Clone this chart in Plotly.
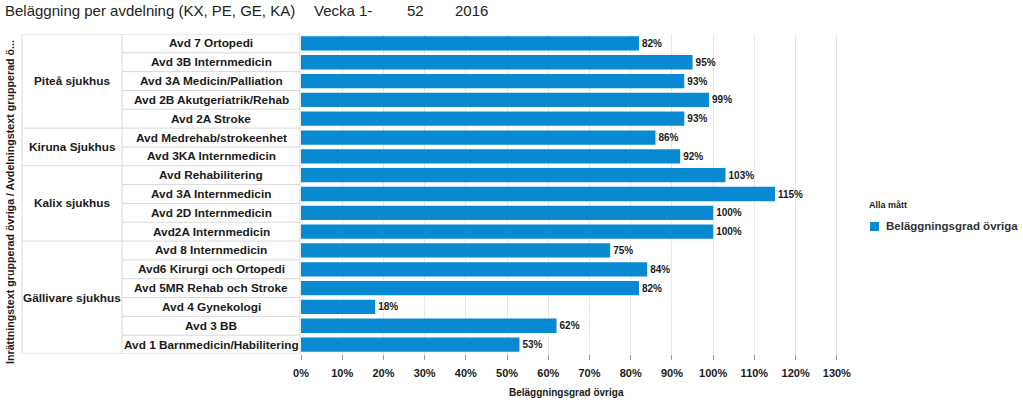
import plotly.graph_objects as go

# ---- data ----
hospitals = ["Piteå sjukhus", "Kiruna Sjukhus", "Kalix sjukhus", "Gällivare sjukhus"]
hospital_sizes = [5, 2, 4, 6]
departments = [
    "Avd 7 Ortopedi", "Avd 3B Internmedicin", "Avd 3A Medicin/Palliation",
    "Avd 2B Akutgeriatrik/Rehab", "Avd 2A Stroke",
    "Avd Medrehab/strokeenhet", "Avd 3KA Internmedicin",
    "Avd Rehabilitering", "Avd 3A Internmedicin", "Avd 2D Internmedicin", "Avd2A Internmedicin",
    "Avd 8 Internmedicin", "Avd6 Kirurgi och Ortopedi", "Avd 5MR Rehab och Stroke",
    "Avd 4 Gynekologi", "Avd 3 BB", "Avd 1 Barnmedicin/Habilitering",
]
occupancy = [82, 95, 93, 99, 93, 86, 92, 103, 115, 100, 100, 75, 84, 82, 18, 62, 53]
x_ticks = list(range(0, 131, 10))
x_ticklabels = [f"{t}%" for t in x_ticks]
series_name = "Beläggningsgrad övriga"
legend_title = "Alla mått"

# ---- layout helpers (pixel -> paper) ----
W, H = 1023, 404
L, R, T, B = 301, 843, 34, 354
def px(xp):
    return (xp - L) / (R - L)
def py(yp):
    return (B - yp) / (B - T)

n = len(departments)
idx = list(range(n))
BAR = "#0a89d3"
GRID = "#d9d9d9"
TXT = "#1a1a1a"
FONT = "Liberation Sans, Arial, sans-serif"

fig = go.Figure()
fig.add_trace(go.Bar(
    x=occupancy, y=idx, orientation="h", name=series_name,
    marker=dict(color=BAR, line=dict(width=0)),
    width=0.76,
    text=[f"<b>{v}%</b>" for v in occupancy], textposition="outside",
    textfont=dict(family=FONT, size=10, color=TXT),
    cliponaxis=False, showlegend=False,
))

shapes = []
annotations = []
col0, col1, col2 = 22, 122, 300
line = dict(color=GRID, width=1)
shapes.append(dict(type="line", xref="paper", yref="y", x0=px(col0), x1=px(col2), y0=-0.5, y1=-0.5, line=line))
shapes.append(dict(type="line", xref="paper", yref="y", x0=px(col0), x1=px(col2), y0=n - 0.5, y1=n - 0.5, line=line))
for xc in (col0, col1, col2):
    shapes.append(dict(type="line", xref="paper", yref="y", x0=px(xc), x1=px(xc), y0=-0.5, y1=n - 0.5, line=line))
boundaries = set()
start = 0
for h, s in zip(hospitals, hospital_sizes):
    end = start + s
    annotations.append(dict(xref="paper", yref="y", x=px((col0 + col1) / 2), y=(start + end - 1) / 2,
                            text=f"<b>{h}</b>", showarrow=False, xanchor="center", yanchor="middle",
                            font=dict(family=FONT, size=11.8, color=TXT)))
    if end < n:
        boundaries.add(end)
    start = end
for i in range(1, n):
    x0 = px(col0) if i in boundaries else px(col1)
    shapes.append(dict(type="line", xref="paper", yref="y", x0=x0, x1=px(col2), y0=i - 0.5, y1=i - 0.5, line=line))
for i, d in enumerate(departments):
    annotations.append(dict(xref="paper", yref="y", x=px((col1 + col2) / 2), y=i,
                            text=f"<b>{d}</b>", showarrow=False, xanchor="center", yanchor="middle",
                            font=dict(family=FONT, size=11.8, color=TXT)))

# y-axis title
annotations.append(dict(xref="paper", yref="paper", x=px(10), y=py(202), textangle=-90,
                        xanchor="center", yanchor="middle",
                        text="<b>Inrättningstext grupperad övriga / Avdelningstext grupperad ö...</b>",
                        showarrow=False, font=dict(family=FONT, size=10.7, color=TXT)))
# x-axis title
annotations.append(dict(xref="paper", yref="paper", x=px(566), y=py(392),
                        xanchor="center", yanchor="middle",
                        text="<b>Beläggningsgrad övriga</b>", showarrow=False,
                        font=dict(family=FONT, size=10, color=TXT)))
# title pieces
title_parts = [("Beläggning per avdelning (KX, PE, GE, KA)", 3), ("Vecka 1-", 312), ("52", 405), ("2016", 453)]
for txt, xp in title_parts:
    annotations.append(dict(xref="paper", yref="paper", x=px(xp), y=py(10), xanchor="left", yanchor="middle",
                            text=txt, showarrow=False,
                            font=dict(family=FONT, size=15, color="#222222")))
# legend (drawn manually)
annotations.append(dict(xref="paper", yref="paper", x=px(867), y=py(205), xanchor="left", yanchor="middle",
                        text=f"<b>{legend_title}</b>", showarrow=False,
                        font=dict(family=FONT, size=9, color=TXT)))
shapes.append(dict(type="rect", xref="paper", yref="paper", x0=px(870), x1=px(879),
                   y0=py(231), y1=py(222), fillcolor=BAR, line=dict(width=0)))
annotations.append(dict(xref="paper", yref="paper", x=px(884), y=py(226), xanchor="left", yanchor="middle",
                        text=f"<b>{series_name}</b>", showarrow=False,
                        font=dict(family=FONT, size=11.5, color="#333333")))

fig.update_layout(
    width=W, height=H,
    margin=dict(l=L, r=W - R, t=T, b=H - B, pad=0, autoexpand=False),
    paper_bgcolor="white", plot_bgcolor="white",
    font=dict(family=FONT, color=TXT),
    showlegend=False,
    xaxis=dict(range=[0, 131.5], tickvals=x_ticks, ticktext=[f"<b>{t}</b>" for t in x_ticklabels],
               showgrid=True, gridcolor="#e8e8e8", gridwidth=1, zeroline=False,
               ticks="outside", ticklen=5, tickcolor="#999999", showline=False,
               ticklabelstandoff=4,
               tickfont=dict(family=FONT, size=11, color=TXT)),
    yaxis=dict(range=[n - 0.5, -0.5], showticklabels=False, showgrid=False, zeroline=False,
               showline=False, ticks=""),
    shapes=shapes,
    annotations=annotations,
)

fig.write_html("out.html",
               config={"displayModeBar": False},
               post_script="document.body.style.margin='0';document.body.style.overflow='hidden';")
